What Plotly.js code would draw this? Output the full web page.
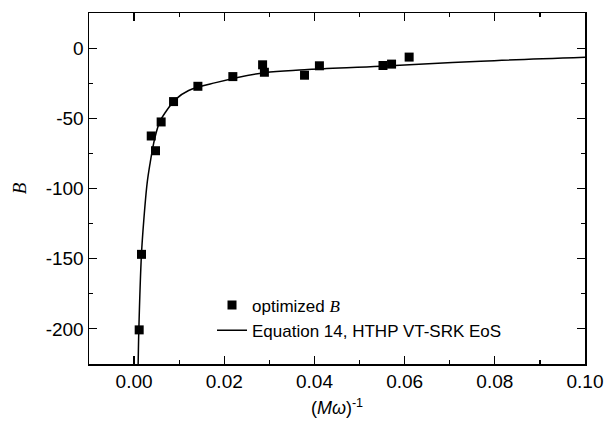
<!DOCTYPE html>
<html>
<head>
<meta charset="utf-8">
<script src="https://cdn.plot.ly/plotly-3.0.1.min.js"></script>
<style>html,body{margin:0;padding:0;background:#fff;}#chart{width:606px;height:426px;}</style>
</head>
<body>
<div id="chart"></div>
<script>
// optimized B points
const ptX = [0.00113, 0.00164, 0.0038, 0.00475, 0.0060, 0.00875, 0.01415, 0.0219, 0.0285, 0.0289, 0.0378, 0.0411, 0.0552, 0.0571, 0.0610];
const ptY = [-200.7, -146.9, -62.6, -73.1, -52.6, -38.1, -27.2, -20.3, -11.9, -17.2, -19.3, -12.6, -12.4, -11.4, -6.4];

// Equation 14 curve
const eqX = [0.00088, 0.00105, 0.00164, 0.00215, 0.0029, 0.0036, 0.0040, 0.0046, 0.0057, 0.0070, 0.0092, 0.0121, 0.0181, 0.0289, 0.0378, 0.0547, 0.0769, 0.1000];
const eqY = [-230, -201, -146.5, -122.6, -96, -81, -73.5, -64, -52.4, -45.5, -36.5, -30.2, -24.6, -17.5, -15.5, -13.0, -9.3, -6.5];

const xTickVals = [0, 0.02, 0.04, 0.06, 0.08, 0.10];
const xTickText = ['0.00', '0.02', '0.04', '0.06', '0.08', '0.10'];
const yTickVals = [0, -50, -100, -150, -200];
const yTickText = ['0', '-50', '-100', '-150', '-200'];

const FONT = 'Liberation Sans, Arial, sans-serif';

const traces = [
  {
    x: ptX, y: ptY, type: 'scatter', mode: 'markers',
    name: 'optimized <span style="font-family:Liberation Serif"><i>B</i></span>',
    marker: {symbol: 'square', size: 9, color: '#000'}
  },
  {
    x: eqX, y: eqY, type: 'scatter', mode: 'lines',
    name: 'Equation 14, HTHP VT-SRK EoS',
    line: {color: '#000', width: 1.5, shape: 'spline', smoothing: 1}
  }
];

const axisCommon = {
  showline: true, linecolor: '#000', linewidth: 1.5, mirror: 'ticks',
  ticks: 'inside', ticklen: 8, tickwidth: 1.2, tickcolor: '#000',
  showgrid: false, zeroline: false,
  tickfont: {family: FONT, size: 19, color: '#000'}
};

const layout = {
  width: 606, height: 426,
  margin: {l: 89, r: 21, t: 13, b: 62},
  paper_bgcolor: '#fff', plot_bgcolor: '#fff',
  showlegend: true,
  legend: {
    x: 0.248, y: 0.218, xanchor: 'left', yanchor: 'top',
    bgcolor: 'rgba(0,0,0,0)', borderwidth: 0,
    font: {family: FONT, size: 17, color: '#000'},
    tracegroupgap: 0
  },
  xaxis: Object.assign({}, axisCommon, {
    range: [-0.01, 0.10], tickmode: 'array', tickvals: xTickVals, ticktext: xTickText,
    minor: {dtick: 0.01, tick0: 0, ticks: 'inside', ticklen: 4, tickcolor: '#000', tickwidth: 1.2},
    title: {text: '(<i>M</i><i>ω</i>)<sup>-1</sup>', font: {family: FONT, size: 18, color: '#000'}, standoff: 10}
  }),
  yaxis: Object.assign({}, axisCommon, {
    range: [-225, 25], tickmode: 'array', tickvals: yTickVals, ticktext: yTickText,
    minor: {dtick: 25, tick0: 0, ticks: 'inside', ticklen: 4, tickcolor: '#000', tickwidth: 1.2},
    title: {text: '<i>B</i>', font: {family: 'Liberation Serif, Times New Roman, serif', size: 19, color: '#000'}, standoff: 14}
  })
};

Plotly.newPlot('chart', traces, layout, {displayModeBar: false, staticPlot: true});
</script>
</body>
</html>
